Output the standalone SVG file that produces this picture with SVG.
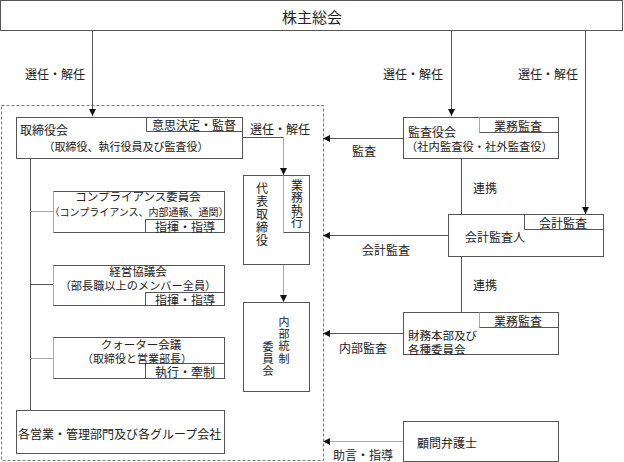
<svg xmlns="http://www.w3.org/2000/svg" width="624" height="462" viewBox="0 0 624 462">
<style>
.b{fill:#fff;stroke:#555;stroke-width:1}
.s{fill:none;stroke:#555;stroke-width:1}
.g{fill:none;stroke:#aaa;stroke-width:1}
.l{fill:none;stroke:#555;stroke-width:1}
.lg{fill:none;stroke:#aaa;stroke-width:1}
text{font-family:"Noto Sans CJK JP","Noto Sans",sans-serif;font-size:12px;fill:#222;dominant-baseline:central}
.c{text-anchor:middle}
.v{writing-mode:vertical-rl;text-anchor:start}
</style>
<defs>
<marker id="ah" markerWidth="7" markerHeight="7" refX="7" refY="3.5" orient="auto" markerUnits="userSpaceOnUse"><path d="M0,0 L7,3.5 L0,7 z" fill="#111"/></marker>
</defs>
<rect x="1.5" y="105.5" width="322" height="355" fill="none" stroke="#777" stroke-width="1" stroke-dasharray="3 2"/>
<g id="connectors">
<path class="l" d="M92.5,31 V116" marker-end="url(#ah)"/>
<path class="l" d="M451.5,31 V116" marker-end="url(#ah)"/>
<path class="l" d="M585.5,31 V214" marker-end="url(#ah)"/>
<path class="l" d="M242,137.5 H283.5"/>
<path class="lg" d="M283.5,137.5 V175" marker-end="url(#ah)"/>
<path class="lg" d="M283.5,264 V302" marker-end="url(#ah)"/>
<path class="l" d="M30.5,158 V410"/>
<path class="lg" d="M30,211.5 H53"/>
<path class="l" d="M30,284.5 H53"/>
<path class="lg" d="M30,358.5 H53"/>
<path class="l" d="M403,138.5 H323" marker-end="url(#ah)"/>
<path class="l" d="M461.5,158 V214"/>
<path class="l" d="M448,235.5 H323" marker-end="url(#ah)"/>
<path class="l" d="M461.5,256 V312"/>
<path class="l" d="M403,333.5 H323" marker-end="url(#ah)"/>
<path class="lg" d="M403,441.5 H323" marker-end="url(#ah)"/>
<text x="25" y="73">選任・解任</text>
<text x="383" y="73">選任・解任</text>
<text x="518" y="73">選任・解任</text>
<text x="250" y="128">選任・解任</text>
<text x="352" y="150">監査</text>
<text x="473" y="187">連携</text>
<text x="362" y="249">会計監査</text>
<text x="473" y="284">連携</text>
<text x="339" y="347">内部監査</text>
<text x="333" y="454">助言・指導</text>
</g>
<g id="shareholders">
<rect class="b" x="0.5" y="0.5" width="622" height="30"/>
<text class="c" x="312" y="16" style="font-size:15px">株主総会</text>
</g>
<g id="board">
<rect class="b" x="16.5" y="117.5" width="226" height="41"/>
<path class="s" d="M146.5,117.5 V131.5 H242.5"/>
<text class="c" x="194" y="124">意思決定・監督</text>
<text x="20" y="129">取締役会</text>
<text class="c" x="126" y="146" style="font-size:11px">（取締役、執行役員及び監査役）</text>
</g>
<g id="representative">
<rect class="b" x="243.5" y="175.5" width="66" height="89"/>
<path class="g" d="M283.5,175.5 V232.5"/>
<path class="s" d="M283.5,232.5 H309.5"/>
<text class="v" x="262" y="182" style="letter-spacing:1px">代表取締役</text>
<text class="v" x="297" y="179" style="letter-spacing:0.5px">業務執行</text>
</g>
<g id="internal-control">
<rect class="b" x="243.5" y="302.5" width="66" height="89"/>
<text class="v" x="284" y="316" style="font-size:11px;letter-spacing:1.3px">内部統制</text>
<text class="v" x="268" y="341" style="font-size:11px;letter-spacing:1.3px">委員会</text>
</g>
<g id="compliance">
<rect class="b" x="53.5" y="191.5" width="171" height="41"/>
<path class="g" d="M53.5,191.5 V232.5"/>
<path class="s" d="M145.5,232.5 V219.5 H224.5"/>
<text class="c" x="138" y="196" style="font-size:11.5px">コンプライアンス委員会</text>
<text class="c" x="139" y="211.5" style="font-size:10px">（コンプライアンス、内部通報、通関）</text>
<text class="c" x="185" y="226">指揮・指導</text>
</g>
<g id="management-council">
<rect class="b" x="53.5" y="265.5" width="171" height="40"/>
<path class="g" d="M53.5,265.5 V305.5"/>
<path class="s" d="M145.5,305.5 V292.5 H224.5"/>
<text class="c" x="138" y="270.5" style="font-size:11.5px">経営協議会</text>
<text class="c" x="138" y="284.5" style="font-size:11.2px">（部長職以上のメンバー全員）</text>
<text class="c" x="185" y="299">指揮・指導</text>
</g>
<g id="quarter-meeting">
<rect class="b" x="53.5" y="337.5" width="171" height="41"/>
<path class="g" d="M53.5,337.5 V378.5"/>
<path class="s" d="M145.5,378.5 V363.5 H224.5"/>
<text class="c" x="141" y="343.5" style="font-size:11.5px">クォーター会議</text>
<text class="c" x="137" y="357.5" style="font-size:11px">（取締役と営業部長）</text>
<text class="c" x="185" y="371">執行・牽制</text>
</g>
<g id="divisions">
<rect class="b" x="16.5" y="410.5" width="208" height="43"/>
<text x="18" y="433">各営業・管理部門及び各グループ会社</text>
</g>
<g id="auditors">
<rect class="b" x="403.5" y="117.5" width="155" height="41"/>
<path class="g" d="M479.5,117.5 V132.5"/>
<path class="s" d="M479.5,132.5 H558.5"/>
<text class="c" x="518" y="125">業務監査</text>
<text x="408" y="131">監査役会</text>
<text x="406" y="146" style="font-size:11.3px">（社内監査役・社外監査役）</text>
</g>
<g id="accounting-auditor">
<rect class="b" x="448.5" y="214.5" width="155" height="42"/>
<path class="s" d="M524.5,214.5 V229.5 H603.5"/>
<text class="c" x="563" y="222">会計監査</text>
<text x="465" y="236">会計監査人</text>
</g>
<g id="finance">
<rect class="b" x="403.5" y="312.5" width="155" height="42"/>
<path class="g" d="M479.5,312.5 V327.5"/>
<path class="s" d="M479.5,327.5 H558.5"/>
<text class="c" x="518" y="320">業務監査</text>
<text x="408" y="334.5" style="font-size:11.5px">財務本部及び</text>
<text x="408" y="348.5" style="font-size:11.5px">各種委員会</text>
</g>
<g id="lawyer">
<rect class="b" x="403.5" y="421.5" width="155" height="40"/>
<text x="417" y="442">顧問弁護士</text>
</g>
</svg>
